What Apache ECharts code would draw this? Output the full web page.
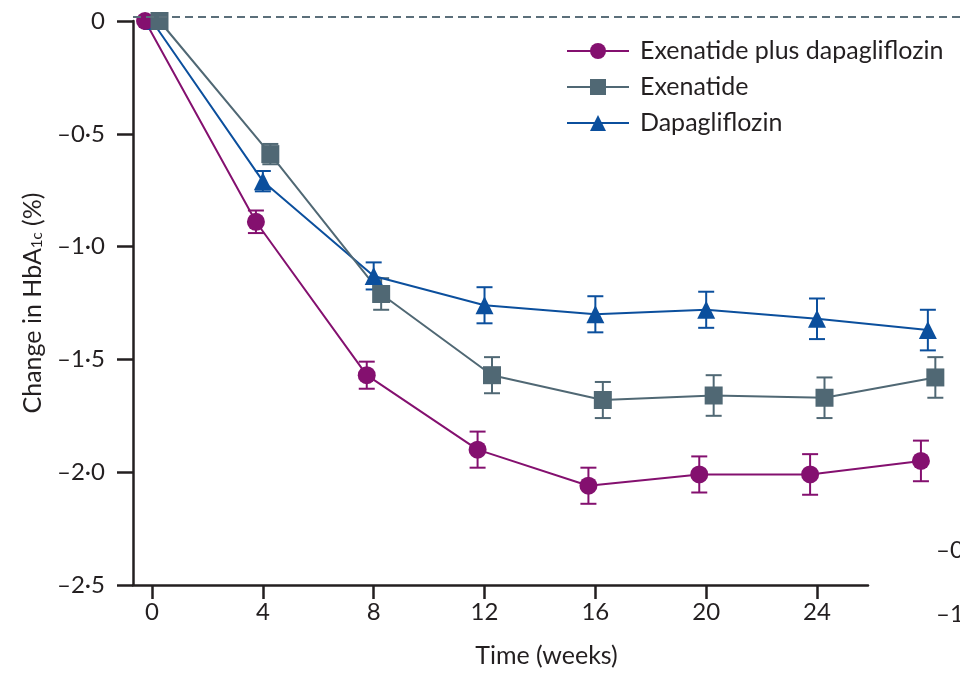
<!DOCTYPE html>
<html><head><meta charset="utf-8">
<script src="https://cdn.jsdelivr.net/npm/echarts@6/dist/echarts.min.js"></script>
<style>html,body{margin:0;padding:0;background:#fff}#c{width:960px;height:674px}</style>
</head><body><div id="c"></div>
<script>
// ---- data ----
const weeks = [0, 4, 8, 12, 16, 20, 24, 28];
const seriesNames = ['Exenatide plus dapagliflozin', 'Exenatide', 'Dapagliflozin'];
const comboMean = [0, -0.89, -1.57, -1.90, -2.06, -2.01, -2.01, -1.95];
const comboErr  = [0, 0.05, 0.06, 0.08, 0.08, 0.08, 0.09, 0.09];
const exenMean  = [0, -0.59, -1.21, -1.57, -1.68, -1.66, -1.67, -1.58];
const exenErr   = [0, 0.045, 0.07, 0.08, 0.08, 0.09, 0.09, 0.09];
const dapaMean  = [0, -0.71, -1.13, -1.26, -1.30, -1.28, -1.32, -1.37];
const dapaErr   = [0, 0.045, 0.06, 0.08, 0.08, 0.08, 0.09, 0.09];
const xTickValues = [0, 4, 8, 12, 16, 20, 24];
const yTickValues = [-2.5, -2.0, -1.5, -1.0, -0.5, 0];
const yTickLabels = ['–2·5', '–2·0', '–1·5', '–1·0', '–0·5', '0'];
const baselineRef = 0.022;

// ---- style ----
const FONT = 'Lato';
const TXT = '#231f20';
const colors = ['#84106f', '#506874', '#0b4f9d'];
const symbols = ['circle', 'rect', 'triangle'];
const symbolSizes = [18, 18, 18];
const dodge = [-0.25, 0.27, 0];
const means = [comboMean, exenMean, dapaMean];
const errs = [comboErr, exenErr, dapaErr];

const XMIN = -0.686, XMAX_AXIS = 25.84, XMAX_FULL = 29.16;
const YMAX_FULL = 0.0931;

const series = [];
const drawOrder = [2, 0, 1];
drawOrder.forEach(function (i) {
  const color = colors[i];
  const errData = [];
  weeks.forEach(function (w, k) {
    if (errs[i][k] > 0) errData.push([w + dodge[i], means[i][k] - errs[i][k], means[i][k] + errs[i][k]]);
  });
  series.push({
    type: 'custom', xAxisIndex: 1, yAxisIndex: 1, silent: true, z: 2,
    data: errData,
    renderItem: function (params, api) {
      const x = api.value(0);
      const lo = api.coord([x, api.value(1)]);
      const hi = api.coord([x, api.value(2)]);
      const w = 8;
      const st = { stroke: color, lineWidth: 2 };
      return { type: 'group', children: [
        { type: 'line', shape: { x1: lo[0], y1: lo[1], x2: hi[0], y2: hi[1] }, style: st },
        { type: 'line', shape: { x1: lo[0] - w, y1: lo[1], x2: lo[0] + w, y2: lo[1] }, style: st },
        { type: 'line', shape: { x1: hi[0] - w, y1: hi[1], x2: hi[0] + w, y2: hi[1] }, style: st }
      ]};
    }
  });
});
drawOrder.forEach(function (i) {
  const s = {
    name: seriesNames[i], type: 'line', xAxisIndex: 1, yAxisIndex: 1, z: 3,
    data: weeks.map(function (w, k) { return [w + dodge[i], means[i][k]]; }),
    symbol: symbols[i], symbolSize: symbolSizes[i], showAllSymbol: true,
    lineStyle: { color: colors[i], width: 2 },
    itemStyle: { color: colors[i] },
    clip: false, animation: false
  };
  if (i === 1) {
    s.markLine = {
      silent: true, symbol: 'none', label: { show: false },
      lineStyle: { color: '#5b6f7a', width: 2, type: [8, 5] },
      data: [{ yAxis: baselineRef }], animation: false
    };
  }
  series.push(s);
});

const chart = echarts.init(document.getElementById('c'), null, { renderer: 'canvas' });
chart.setOption({
  animation: false,
  textStyle: { fontFamily: FONT },
  grid: [
    { left: 133, right: 92, top: 21, bottom: 89 },
    { left: 133, right: 0, top: 0, bottom: 89 }
  ],
  legend: {
    data: seriesNames, orient: 'vertical', left: 561, top: 33,
    itemWidth: 62, itemHeight: 20, itemGap: 10,
    textStyle: { fontFamily: FONT, fontSize: 25, color: TXT, padding: [0, 0, 0, 6], lineHeight: 26 }
  },
  xAxis: [
    {
      type: 'value', gridIndex: 0, min: XMIN, max: XMAX_AXIS, position: 'bottom',
      axisLine: { show: true, onZero: false, lineStyle: { color: TXT, width: 2.5 } },
      axisTick: { show: true, customValues: xTickValues, length: 14, lineStyle: { color: TXT, width: 2.5 } },
      axisLabel: { customValues: xTickValues, margin: 15, fontFamily: FONT, fontSize: 24, color: TXT },
      splitLine: { show: false }
    },
    {
      type: 'value', gridIndex: 1, min: XMIN, max: XMAX_FULL, position: 'bottom',
      axisLine: { show: false, onZero: false }, axisTick: { show: false }, axisLabel: { show: false }, splitLine: { show: false },
      name: 'Time (weeks)', nameLocation: 'middle', nameGap: 58,
      nameTextStyle: { fontFamily: FONT, fontSize: 25, color: TXT }
    }
  ],
  yAxis: [
    {
      type: 'value', gridIndex: 0, min: -2.5, max: 0, interval: 0.5, position: 'left',
      axisLine: { show: true, onZero: false, lineStyle: { color: TXT, width: 2.5 } },
      axisTick: { show: true, length: 16, lineStyle: { color: TXT, width: 2.5 } },
      axisLabel: {
        margin: 28, fontFamily: FONT, fontSize: 24, color: TXT,
        formatter: function (v) {
          const idx = yTickValues.findIndex(function (t) { return Math.abs(t - v) < 1e-6; });
          return idx >= 0 ? yTickLabels[idx] : '';
        }
      },
      splitLine: { show: false },
      name: '{a|Change in HbA}{s|1c}{a| (%)}', nameLocation: 'middle', nameGap: 88, nameRotate: 90,
      nameTextStyle: {
        color: TXT, fontFamily: FONT,
        rich: {
          a: { fontFamily: FONT, fontSize: 25, color: TXT },
          s: { fontFamily: FONT, fontSize: 15, color: TXT, verticalAlign: 'bottom', padding: [9, 0, 0, 0] }
        }
      }
    },
    {
      type: 'value', gridIndex: 1, min: -2.5, max: YMAX_FULL,
      show: false, splitLine: { show: false }
    }
  ],
  graphic: [
    { type: 'text', left: 936, top: 538, style: { text: '–0·5', fontFamily: FONT, fontSize: 24, fill: TXT } },
    { type: 'text', left: 936, top: 602, style: { text: '–1·0', fontFamily: FONT, fontSize: 24, fill: TXT } }
  ],
  series: series
});
</script>
</body></html>
